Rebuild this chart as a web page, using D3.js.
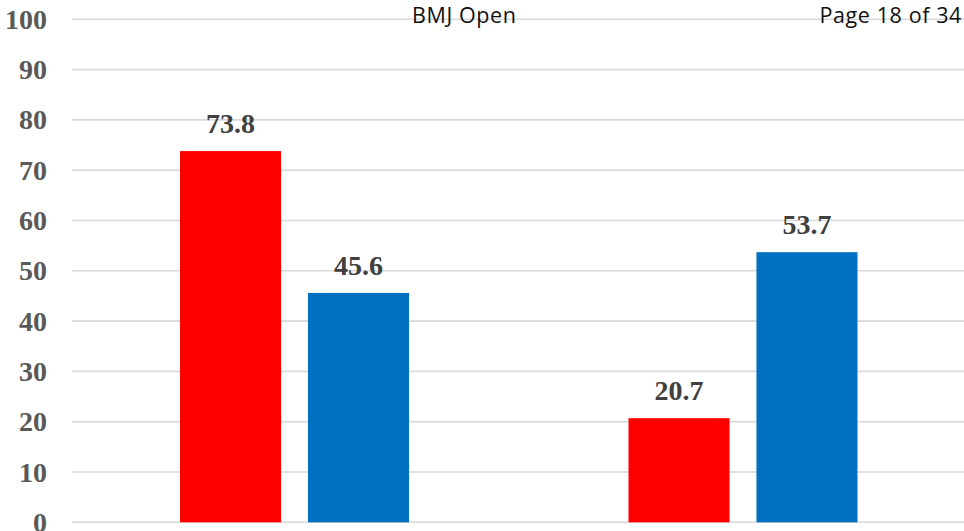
<!DOCTYPE html>
<html>
<head>
<meta charset="utf-8">
<script src="https://cdn.jsdelivr.net/npm/d3@7"></script>
<style>
html,body{margin:0;padding:0;background:#fff;}
svg{display:block;}
</style>
</head>
<body>
<svg id="chart" width="964" height="531"></svg>
<script>
const categories = ["Group A", "Group B"];
const seriesNames = ["Series 1", "Series 2"];
const series1 = [73.8, 20.7];
const series2 = [45.6, 53.7];
const yTicks = [0, 10, 20, 30, 40, 50, 60, 70, 80, 90, 100];
const colors = ["#ff0000", "#0070c0"];
const headerLeft = "BMJ Open";
const headerRight = "Page 18 of 34";

const data = categories.map((c, i) => ({cat: c, vals: [series1[i], series2[i]]}));

const svg = d3.select("#chart");
const W = 964, H = 531;
const left = 70, right = 967;

const y = d3.scaleLinear().domain([0, 100]).range([522.3, 19.3]);
const x0 = d3.scaleBand().domain(categories).range([left, right]).padding(0);
const x1 = d3.scaleBand().domain(seriesNames).range([110, 339]).paddingInner(0.21).paddingOuter(0);

// gridlines
svg.append("g").selectAll("line").data(yTicks).join("line")
  .attr("x1", 72).attr("x2", W)
  .attr("y1", d => y(d)).attr("y2", d => y(d))
  .attr("stroke", "#d9d9d9").attr("stroke-width", 1.6);

// y axis labels
svg.append("g").selectAll("text").data(yTicks).join("text")
  .attr("x", 47).attr("y", d => y(d)).attr("dy", "0.34em")
  .attr("text-anchor", "end")
  .attr("font-family", "'Liberation Serif', 'Times New Roman', serif")
  .attr("font-weight", "bold").attr("font-size", 28)
  .attr("fill", "#595959")
  .text(d => d);

// header
svg.append("text").attr("x", 412).attr("y", 23)
  .attr("font-family", "'Open Sans', sans-serif").attr("font-size", 21.5)
  .attr("letter-spacing", 0.6)
  .attr("fill", "#111").text(headerLeft);
svg.append("text").attr("x", 962).attr("y", 23).attr("text-anchor", "end")
  .attr("font-family", "'Open Sans', sans-serif").attr("font-size", 21.5)
  .attr("letter-spacing", 0.6)
  .attr("fill", "#111").text(headerRight);

// bars
const groups = svg.append("g").selectAll("g").data(data).join("g")
  .attr("transform", d => `translate(${x0(d.cat)},0)`);

groups.selectAll("rect").data(d => d.vals.map((v, i) => ({key: seriesNames[i], v, i}))).join("rect")
  .attr("x", d => x1(d.key))
  .attr("width", x1.bandwidth())
  .attr("y", d => y(d.v))
  .attr("height", d => y(0) - y(d.v))
  .attr("fill", d => colors[d.i]);

groups.selectAll("text").data(d => d.vals.map((v, i) => ({key: seriesNames[i], v, i}))).join("text")
  .attr("x", d => x1(d.key) + x1.bandwidth() / 2)
  .attr("y", d => y(d.v) - 18)
  .attr("text-anchor", "middle")
  .attr("font-family", "'Liberation Serif', 'Times New Roman', serif")
  .attr("font-weight", "bold").attr("font-size", 28)
  .attr("fill", "#404040")
  .text(d => d3.format(".1f")(d.v));
</script>
</body>
</html>
